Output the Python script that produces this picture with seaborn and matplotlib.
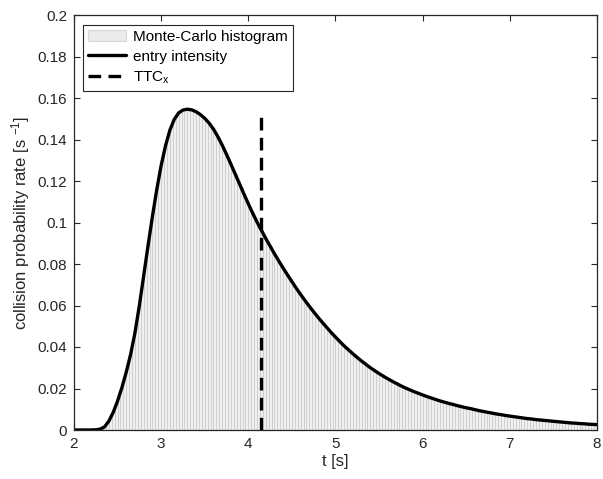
import numpy as np
import pandas as pd
import matplotlib
matplotlib.use("Agg")
import matplotlib.pyplot as plt
import seaborn as sns
from matplotlib.patches import Patch
from matplotlib.lines import Line2D
from matplotlib.ticker import FuncFormatter

# ---- data ----
# entry intensity curve, sampled every 0.05 s from t = 2.0 s
t_start = 2.0
t_step = 0.05
rate = [
    0, 0, 0, 0, 0.00002, 0.0001, 0.0004, 0.0015, 0.0043, 0.0085,
    0.0140, 0.0205, 0.0280, 0.0365, 0.0470, 0.0600, 0.0745, 0.0890, 0.1030, 0.1160,
    0.1275, 0.1370, 0.1445, 0.1497, 0.1528, 0.1542, 0.1546, 0.1543, 0.1534, 0.1520,
    0.1502, 0.1479, 0.1450, 0.1414, 0.1373, 0.1328, 0.1281, 0.1233, 0.1185, 0.1137,
    0.1090, 0.1045, 0.1002, 0.0962, 0.0923, 0.0886, 0.0849, 0.0814, 0.0780, 0.0747,
    0.0715, 0.0683, 0.0653, 0.0624, 0.0596, 0.0569, 0.0543, 0.0518, 0.0494, 0.0470,
    0.0448, 0.0426, 0.0405, 0.0386, 0.0367, 0.0349, 0.0332, 0.0316, 0.0300, 0.0286,
    0.0272, 0.0259, 0.0247, 0.0235, 0.0224, 0.0213, 0.0203, 0.0194, 0.0185, 0.0177,
    0.0169, 0.0161, 0.0154, 0.0147, 0.0140, 0.0134, 0.0128, 0.0123, 0.0117, 0.0112,
    0.0107, 0.0103, 0.0098, 0.0093, 0.0089, 0.0085, 0.0081, 0.0077, 0.0074, 0.0070,
    0.0067, 0.0064, 0.0061, 0.0058, 0.0055, 0.0053, 0.0050, 0.0048, 0.0046, 0.0044,
    0.0042, 0.0040, 0.0038, 0.0036, 0.0034, 0.0033, 0.0031, 0.0030, 0.0028, 0.0027,
    0.0026,
]

# Monte-Carlo histogram, bins of 1/30 s from 2 s to 8 s
hist_start = 2.0
hist_bin_width = 1 / 30
hist_height = [
    0, 0, 0,
    0, 0, 0.00001,
    0.00005, 0.0001, 0.0003,
    0.0008, 0.0015, 0.0034,
    0.0057, 0.0085, 0.0122,
    0.0162, 0.0205, 0.0255,
    0.0308, 0.0365, 0.0435,
    0.0513, 0.0600, 0.0697,
    0.0793, 0.0890, 0.0983,
    0.1073, 0.1160, 0.1237,
    0.1307, 0.1370, 0.1420,
    0.1462, 0.1497, 0.1518,
    0.1533, 0.1542, 0.1545,
    0.1545, 0.1543, 0.1537,
    0.1529, 0.1520, 0.1508,
    0.1494, 0.1479, 0.1460,
    0.1438, 0.1414, 0.1387,
    0.1358, 0.1328, 0.1297,
    0.1265, 0.1233, 0.1201,
    0.1169, 0.1137, 0.1106,
    0.1075, 0.1045, 0.1016,
    0.0989, 0.0962, 0.0936,
    0.0911, 0.0886, 0.0861,
    0.0837, 0.0814, 0.0791,
    0.0769, 0.0747, 0.0726,
    0.0704, 0.0683, 0.0663,
    0.0643, 0.0624, 0.0605,
    0.0587, 0.0569, 0.0552,
    0.0535, 0.0518, 0.0502,
    0.0486, 0.0470, 0.0455,
    0.0441, 0.0426, 0.0412,
    0.0399, 0.0386, 0.0373,
    0.0361, 0.0349, 0.0338,
    0.0327, 0.0316, 0.0305,
    0.0295, 0.0286, 0.0277,
    0.0268, 0.0259, 0.0251,
    0.0243, 0.0235, 0.0228,
    0.0220, 0.0213, 0.0206,
    0.0200, 0.0194, 0.0188,
    0.0182, 0.0177, 0.0172,
    0.0166, 0.0161, 0.0156,
    0.0152, 0.0147, 0.0142,
    0.0138, 0.0134, 0.0130,
    0.0126, 0.0123, 0.0119,
    0.0115, 0.0112, 0.0109,
    0.0106, 0.0103, 0.0100,
    0.0096, 0.0093, 0.0090,
    0.0088, 0.0085, 0.0082,
    0.0080, 0.0077, 0.0075,
    0.0073, 0.0070, 0.0068,
    0.0066, 0.0064, 0.0062,
    0.0060, 0.0058, 0.0056,
    0.0054, 0.0053, 0.0051,
    0.0049, 0.0048, 0.0047,
    0.0045, 0.0044, 0.0043,
    0.0041, 0.0040, 0.0039,
    0.0037, 0.0036, 0.0035,
    0.0034, 0.0033, 0.0032,
    0.0031, 0.0030, 0.0029,
    0.0028, 0.0027, 0.0026,
]

ttc_x = 4.145
ttc_top = 0.1535

x_ticks = [2, 3, 4, 5, 6, 7, 8]
y_ticks = [0, 0.02, 0.04, 0.06, 0.08, 0.1, 0.12, 0.14, 0.16, 0.18, 0.2]

t = [round(t_start + i * t_step, 4) for i in range(len(rate))]
hist_df = pd.DataFrame({
    "t": [hist_start + (k + 0.5) * hist_bin_width for k in range(len(hist_height))],
    "h": hist_height,
})

# ---- style ----
sns.set_theme(style="white")
plt.rcParams["font.family"] = ["Liberation Sans", "DejaVu Sans"]
plt.rcParams["mathtext.fontset"] = "custom"
plt.rcParams["mathtext.rm"] = "Liberation Sans"
plt.rcParams["mathtext.it"] = "Liberation Sans"
axcol = "#262626"
dash = (0, (3.8, 2.2))

fig = plt.figure(figsize=(6.03, 4.79), dpi=100)
ax = fig.add_axes([74 / 603, 49 / 479, 523 / 603, 415 / 479])

# histogram bars
sns.histplot(data=hist_df, x="t", weights="h", binwidth=hist_bin_width,
             binrange=(hist_start, hist_start + len(hist_height) * hist_bin_width),
             stat="count", ax=ax, color="#f0f0f0", edgecolor="#cfcfcf",
             linewidth=0.7, alpha=1.0)

# entry intensity curve
sns.lineplot(x=t, y=rate, color="black", linewidth=2.4, ax=ax)

# TTC_x
ax.vlines(ttc_x, 0, ttc_top, colors="black", linestyles=dash, linewidth=2.4)

ax.set_xlim(2, 8)
ax.set_ylim(0, 0.2)
ax.xaxis.set_major_locator(plt.FixedLocator(x_ticks))
ax.yaxis.set_major_locator(plt.FixedLocator(y_ticks))
ax.yaxis.set_major_formatter(FuncFormatter(lambda v, p: f"{v:g}"))
ax.tick_params(direction="in", length=4, width=0.8, colors=axcol, labelsize=11,
               top=True, right=True, bottom=True, left=True,
               labeltop=False, labelright=False, pad=5)
for s in ax.spines.values():
    s.set_visible(True)
    s.set_color(axcol)
    s.set_linewidth(0.9)

ax.set_xlabel("t [s]", fontsize=12, color=axcol, labelpad=2)
ax.set_ylabel("collision probability rate [s $^{-1}$]", fontsize=12, color=axcol, labelpad=4)

handles = [
    Patch(facecolor="#ebebeb", edgecolor="#d8d8d8", linewidth=0.8),
    Line2D([0], [0], color="black", linewidth=2.4),
    Line2D([0], [0], color="black", linewidth=2.4, linestyle=dash),
]
labels = ["Monte-Carlo histogram", "entry intensity", "TTC$_{\\mathrm{x}}$"]
leg = ax.legend(handles, labels, loc="upper left", bbox_to_anchor=(0.017, 0.977),
                fontsize=11, frameon=True, fancybox=False, edgecolor=axcol,
                framealpha=1, borderpad=0.35, labelspacing=0.38, handlelength=2.5,
                handletextpad=0.4, borderaxespad=0)
leg.get_frame().set_linewidth(0.8)
for txt in leg.get_texts():
    txt.set_color("black")

fig.savefig("out.png", dpi=100)
